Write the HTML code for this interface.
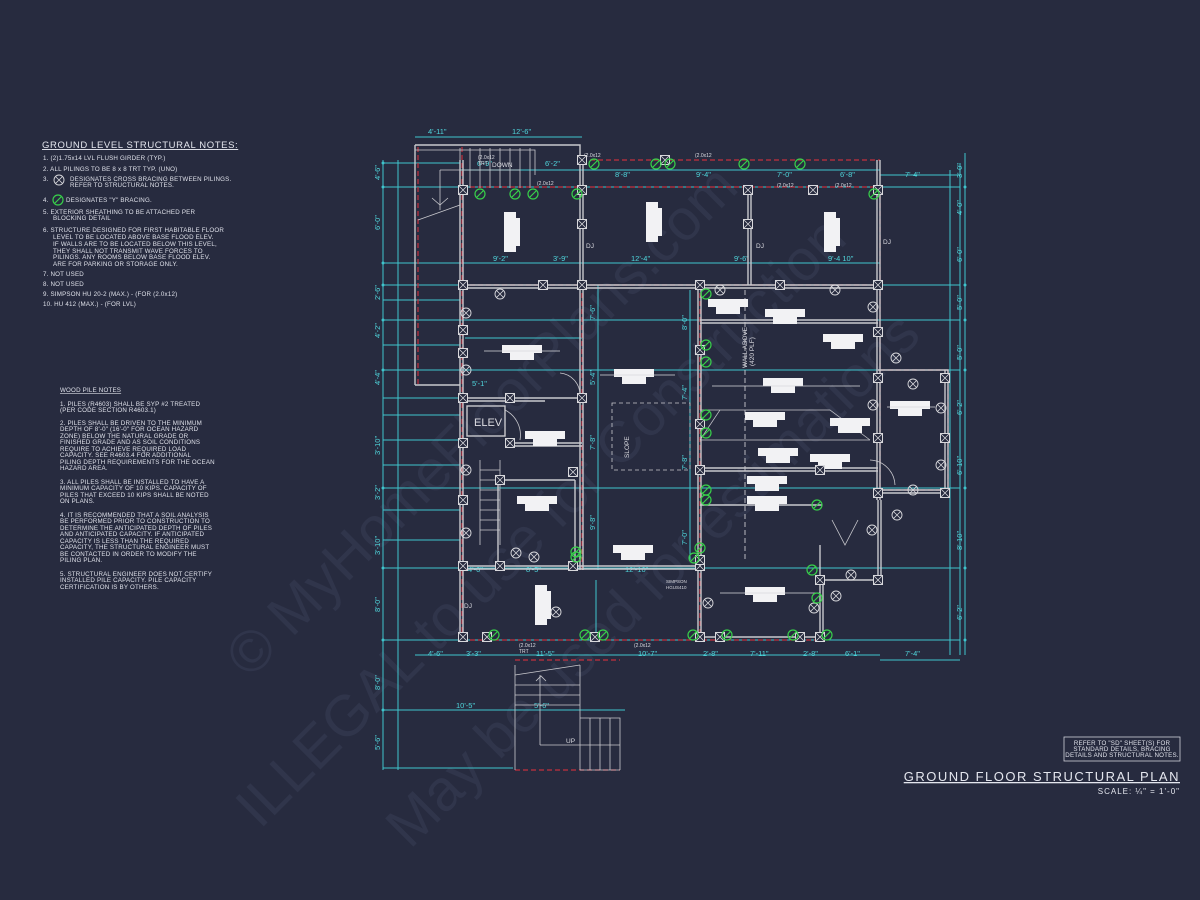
<!DOCTYPE html>
<html><head><meta charset="utf-8"><style>
html,body{margin:0;padding:0;background:#272b3f;}
svg{display:block}
text{font-family:"Liberation Sans",sans-serif;}
.n{fill:#dfe1ea;font-size:6.2px;letter-spacing:.2px}
.c{fill:#4fd6dc;font-size:7.5px}
</style></head><body>
<svg width="1200" height="900" viewBox="0 0 1200 900" xmlns="http://www.w3.org/2000/svg">
<rect width="1200" height="900" fill="#272b3f"/>
<defs>
<g id="xb"><rect x="-4.5" y="-4.5" width="9" height="9" fill="#272b3f" stroke="#d8d8dc" stroke-width="1"/><path d="M-4 -4L4 4M4 -4L-4 4" stroke="#d8d8dc" stroke-width=".8"/></g>
<g id="xc"><circle r="5" fill="none" stroke="#d8d8dc" stroke-width=".9"/><path d="M-3.5 -3.5L3.5 3.5M3.5 -3.5L-3.5 3.5" stroke="#d8d8dc" stroke-width=".8"/></g>
<g id="gy"><circle r="5" fill="none" stroke="#38d04a" stroke-width="1.2"/><path d="M-3 3L3 -3" stroke="#38d04a" stroke-width="1.2"/></g>
<g id="lb"><rect x="-20" y="-4" width="40" height="8" fill="#f2f2f4"/><rect x="-12" y="4" width="24" height="7" fill="#f2f2f4"/></g>
<g id="bm"><rect x="-6" y="-20" width="12" height="40" fill="#f2f2f4"/><rect x="4" y="-14" width="6" height="28" fill="#f2f2f4"/></g>
</defs>

<!-- watermark -->
<g fill="#30354b" font-family="Liberation Serif,serif" font-size="58">
<text transform="translate(250,680) rotate(-45)">© MyHomeFloorPlans.com</text>
<text transform="translate(260,830) rotate(-45)">ILLEGAL to use for Construction</text>
<text transform="translate(410,850) rotate(-45)">May be used for estimations</text>
</g>

<!-- notes -->
<text x="42" y="148" fill="#e4e6ee" font-size="9.5" text-decoration="underline" letter-spacing=".6">GROUND LEVEL STRUCTURAL NOTES:</text>
<g class="n">
<text x="43" y="160">1.  (2)1.75x14 LVL FLUSH GIRDER (TYP.)</text>
<text x="43" y="171">2.  ALL PILINGS TO BE 8 x 8 TRT TYP. (UNO)</text>
<text x="43" y="181">3.</text><text x="70" y="181">DESIGNATES CROSS BRACING BETWEEN PILINGS.</text>
<text x="70" y="187">REFER TO STRUCTURAL NOTES.</text>
<text x="43" y="202">4.</text><text x="66" y="202">DESIGNATES "Y" BRACING.</text>
<text x="43" y="214">5.  EXTERIOR SHEATHING TO BE ATTACHED PER</text>
<text x="53" y="220">BLOCKING DETAIL</text>
<text x="43" y="232">6.  STRUCTURE DESIGNED FOR FIRST HABITABLE FLOOR</text>
<text x="53" y="239">LEVEL TO BE LOCATED ABOVE BASE FLOOD ELEV.</text>
<text x="53" y="246">IF WALLS ARE TO BE LOCATED BELOW THIS LEVEL,</text>
<text x="53" y="253">THEY SHALL NOT TRANSMIT WAVE FORCES TO</text>
<text x="53" y="259">PILINGS.  ANY ROOMS BELOW BASE FLOOD ELEV.</text>
<text x="53" y="266">ARE FOR PARKING OR STORAGE ONLY.</text>
<text x="43" y="276">7.  NOT USED</text>
<text x="43" y="286">8.  NOT USED</text>
<text x="43" y="296">9.  SIMPSON HU 20-2 (MAX.) - (FOR (2.0x12)</text>
<text x="43" y="306">10. HU 412 (MAX.) - (FOR LVL)</text>
</g>
<use href="#xc" x="59" y="180"/>
<use href="#gy" x="58" y="200"/>

<g class="n" font-size="5.6">
<text x="60" y="392" text-decoration="underline">WOOD PILE NOTES</text>
<text x="60" y="406">1. PILES (R4603) SHALL BE SYP #2 TREATED</text>
<text x="60" y="412">(PER CODE SECTION R4603.1)</text>
<text x="60" y="425">2. PILES SHALL BE DRIVEN TO THE MINIMUM</text>
<text x="60" y="431">DEPTH OF 8'-0" (16'-0" FOR OCEAN HAZARD</text>
<text x="60" y="438">ZONE) BELOW THE NATURAL GRADE OR</text>
<text x="60" y="444">FINISHED GRADE AND AS SOIL CONDITIONS</text>
<text x="60" y="451">REQUIRE TO ACHIEVE REQUIRED LOAD</text>
<text x="60" y="457">CAPACITY. SEE R4603.4 FOR ADDITIONAL</text>
<text x="60" y="464">PILING DEPTH REQUIREMENTS FOR THE OCEAN</text>
<text x="60" y="470">HAZARD AREA.</text>
<text x="60" y="484">3. ALL PILES SHALL BE INSTALLED TO HAVE A</text>
<text x="60" y="490">MINIMUM CAPACITY OF 10 KIPS. CAPACITY OF</text>
<text x="60" y="497">PILES THAT EXCEED 10 KIPS SHALL BE NOTED</text>
<text x="60" y="503">ON PLANS.</text>
<text x="60" y="517">4. IT IS RECOMMENDED THAT A SOIL ANALYSIS</text>
<text x="60" y="523">BE PERFORMED PRIOR TO CONSTRUCTION TO</text>
<text x="60" y="530">DETERMINE THE ANTICIPATED DEPTH OF PILES</text>
<text x="60" y="536">AND ANTICIPATED CAPACITY. IF ANTICIPATED</text>
<text x="60" y="543">CAPACITY IS LESS THAN THE REQUIRED</text>
<text x="60" y="549">CAPACITY, THE STRUCTURAL ENGINEER MUST</text>
<text x="60" y="556">BE CONTACTED IN ORDER TO MODIFY THE</text>
<text x="60" y="562">PILING PLAN.</text>
<text x="60" y="576">5. STRUCTURAL ENGINEER DOES NOT CERTIFY</text>
<text x="60" y="582">INSTALLED PILE CAPACITY. PILE CAPACITY</text>
<text x="60" y="589">CERTIFICATION IS BY OTHERS.</text>
</g>

<!-- title -->
<rect x="1064" y="737" width="116" height="24" fill="none" stroke="#cfd1da" stroke-width=".8"/>
<g class="n" font-size="5.3" text-anchor="middle">
<text x="1122" y="745">REFER TO "SD" SHEET(S) FOR</text>
<text x="1122" y="751">STANDARD DETAILS, BRACING</text>
<text x="1122" y="757">DETAILS AND STRUCTURAL NOTES.</text>
</g>
<text x="1180" y="781" text-anchor="end" fill="#e4e6ee" font-size="13" letter-spacing="1.5" text-decoration="underline">GROUND FLOOR STRUCTURAL PLAN</text>
<text x="1180" y="794" text-anchor="end" fill="#e4e6ee" font-size="8" letter-spacing="1">SCALE: ¼" = 1'-0"</text>

<!-- cyan dimension lines -->
<g stroke="#3fc4cc" stroke-width="1" fill="none">
<path d="M415 137H582M383 160V770M398 160V770M965 153V655M950 170V655"/>
<path d="M383 163H460M383 187H960M383 263H880M383 285H960M383 300H460M383 320H960M383 345H460M383 370H960M383 398H460M383 415H460M383 440H460M383 465H460M383 488H960M383 510H460M383 540H460M383 568H960M383 640H960M383 710H625M383 768H513"/>
<path d="M415 655H880M460 170H880M598 285V570M690 290V560M596 580V640M465 338H582"/>
<path d="M960 163V655M880 175H960M880 660H960"/>
</g>
<g fill="#3fc4cc">
<circle cx="383" cy="163" r="1.5"/><circle cx="383" cy="187" r="1.5"/><circle cx="383" cy="263" r="1.5"/><circle cx="383" cy="285" r="1.5"/><circle cx="383" cy="320" r="1.5"/><circle cx="383" cy="370" r="1.5"/><circle cx="383" cy="488" r="1.5"/><circle cx="383" cy="568" r="1.5"/><circle cx="383" cy="640" r="1.5"/><circle cx="383" cy="710" r="1.5"/>
<circle cx="965" cy="187" r="1.5"/><circle cx="965" cy="285" r="1.5"/><circle cx="965" cy="320" r="1.5"/><circle cx="965" cy="370" r="1.5"/><circle cx="965" cy="488" r="1.5"/><circle cx="965" cy="568" r="1.5"/><circle cx="965" cy="640" r="1.5"/>
</g>
<g class="c">
<text x="428" y="134">4'-11"</text><text x="512" y="134">12'-6"</text>
<text x="477" y="166">6'-9"</text><text x="545" y="166">6'-2"</text><text x="615" y="177">8'-8"</text><text x="696" y="177">9'-4"</text><text x="777" y="177">7'-0"</text><text x="840" y="177">6'-8"</text><text x="905" y="177">7'-4"</text>
<text x="493" y="261">9'-2"</text><text x="553" y="261">3'-9"</text><text x="631" y="261">12'-4"</text><text x="734" y="261">9'-6"</text><text x="828" y="261">9'-4 10"</text>
<text x="472" y="386">5'-1"</text>
<text x="468" y="572">4'-0"</text><text x="526" y="572">8'-5"</text><text x="625" y="572">12'-10"</text>
<text x="428" y="656">4'-6"</text><text x="466" y="656">3'-3"</text><text x="536" y="656">11'-5"</text><text x="638" y="656">10'-7"</text><text x="703" y="656">2'-8"</text><text x="750" y="656">7'-11"</text><text x="803" y="656">2'-8"</text><text x="845" y="656">6'-1"</text><text x="905" y="656">7'-4"</text>
<text x="456" y="708">10'-5"</text><text x="534" y="708">5'-6"</text>
</g>
<g class="c" font-size="6.5">
<text transform="translate(380,180) rotate(-90)">4'-6"</text><text transform="translate(380,230) rotate(-90)">6'-0"</text><text transform="translate(380,300) rotate(-90)">2'-6"</text><text transform="translate(380,338) rotate(-90)">4'-2"</text><text transform="translate(380,385) rotate(-90)">4'-4"</text><text transform="translate(380,455) rotate(-90)">3'-10"</text><text transform="translate(380,500) rotate(-90)">3'-2"</text><text transform="translate(380,555) rotate(-90)">3'-10"</text><text transform="translate(380,612) rotate(-90)">8'-0"</text><text transform="translate(380,690) rotate(-90)">8'-0"</text><text transform="translate(380,750) rotate(-90)">5'-6"</text>
<text transform="translate(962,178) rotate(-90)">3'-0"</text><text transform="translate(962,215) rotate(-90)">4'-0"</text><text transform="translate(962,262) rotate(-90)">6'-0"</text><text transform="translate(962,310) rotate(-90)">5'-0"</text><text transform="translate(962,360) rotate(-90)">5'-0"</text><text transform="translate(962,415) rotate(-90)">6'-2"</text><text transform="translate(962,475) rotate(-90)">6'-10"</text><text transform="translate(962,550) rotate(-90)">8'-10"</text><text transform="translate(962,620) rotate(-90)">6'-2"</text>
<text transform="translate(687,330) rotate(-90)">8'-0"</text><text transform="translate(687,400) rotate(-90)">7'-4"</text><text transform="translate(687,470) rotate(-90)">7'-8"</text><text transform="translate(687,545) rotate(-90)">7'-0"</text>
<text transform="translate(595,320) rotate(-90)">7'-6"</text><text transform="translate(595,385) rotate(-90)">5'-4"</text><text transform="translate(595,450) rotate(-90)">7'-8"</text><text transform="translate(595,530) rotate(-90)">9'-8"</text>
</g>

<!-- red dashed framing -->
<g stroke="#c1303e" stroke-width="1.2" fill="none" stroke-dasharray="5 3">
<path d="M418 147V385M462 147V640M582 160H880M462 187H880M462 285H880M582 285V570M700 285V640M462 640H820M880 187V500M880 370H948M880 490H948M948 370V490"/>
<path d="M515 660H620M515 770H620"/>
</g>

<!-- walls -->
<g stroke="#c9c9ce" stroke-width="1.4" fill="none">
<path d="M415 145H580V385M415 145V385M460 160V640M580 160V570M463 160V640"/>
<path d="M583 160V570M748 187V285M751 187V285M880 160V500M877 160V500"/>
<path d="M462 285H880M462 288H880M462 398H582M462 401H545M505 443H582M505 446H582"/>
<path d="M498 480H575M498 565V480M575 480V565M462 566H700M462 569H700"/>
<path d="M698 285V640M701 285V640M700 637H820M820 580V640M823 580V640M820 580H880M820 545V580"/>
<path d="M878 370H948V490H878M878 493H948M945 370V490"/>
<path d="M700 320H878M700 323H878M700 468H878M700 471H878M700 505H822M415 385H460"/>
<path d="M878 500V580M881 500V580"/>
<rect x="467" y="406" width="38" height="30"/>
</g>
<text x="474" y="426" fill="#dcdce2" font-size="11">ELEV</text>

<!-- stairs etc -->
<g stroke="#c9c9ce" stroke-width=".8" fill="none">
<path d="M460 148V188M470 148V188M480 148V188M490 148V188M500 148V188M510 148V188M520 148V188M530 148V188"/>
<path d="M415 150H535V175M440 170H520M440 170V210M418 220L460 205"/>
<path d="M432 198L440 205L448 198"/>
<path d="M480 460V545M500 460V545M480 470H500M480 480H500M480 490H500M480 500H500M480 510H500M480 520H500M480 530H500"/>
<path d="M515 665V770M580 665V770M515 675L580 665M515 685H580M515 695H580M515 705H580M540 675V745M580 718H620V770M580 770H620M590 718V770M600 718V770M610 718V770M540 745H620"/>
<path d="M536 681L541 676L546 681"/>
<path d="M612 403H690V470H612Z" stroke-dasharray="4 3"/>
<path d="M700 410L720 410L700 440M720 410H830L870 440M700 440L870 440" stroke-width=".7"/>
<path d="M745 290V560" stroke-dasharray="5 3" stroke-width=".9"/>
<path d="M560 373A22 22 0 0 1 580 395M505 410A28 28 0 0 1 520 440M870 460A26 26 0 0 1 895 485M832 520L845 545L858 520"/>
</g>
<g fill="#dcdce2" font-size="6.5">
<text x="492" y="167">DOWN</text>
<text x="566" y="743">UP</text>
<text x="756" y="248">DJ</text><text x="883" y="244">DJ</text><text x="586" y="248">DJ</text><text x="464" y="608">DJ</text>
<text transform="translate(629,458) rotate(-90)">SLOPE</text>
<text transform="translate(747,368) rotate(-90)">WALL ABOVE</text><text transform="translate(754,366) rotate(-90)">(420 PLF)</text>
<text x="666" y="583" font-size="4.5">SIMPSON</text><text x="666" y="589" font-size="4.5">HGUS410</text>
<text x="478" y="159" font-size="5">(2.0x12</text><text x="478" y="165" font-size="5">TRT</text>
<text x="537" y="185" font-size="5">(2.0x12</text><text x="584" y="157" font-size="5">(2.0x12</text><text x="695" y="157" font-size="5">(2.0x12</text>
<text x="777" y="187" font-size="5">(2.0x12</text><text x="835" y="187" font-size="5">(2.0x12</text>
<text x="519" y="647" font-size="5">(2.0x12</text><text x="519" y="653" font-size="5">TRT</text><text x="634" y="647" font-size="5">(2.0x12</text>
</g>

<use href="#bm" x="510" y="232"/><use href="#bm" x="652" y="222"/><use href="#bm" x="830" y="232"/><use href="#bm" x="541" y="605"/>
<use href="#lb" x="522" y="349"/><use href="#lb" x="634" y="373"/><use href="#lb" x="545" y="435"/><use href="#lb" x="537" y="500"/>
<use href="#lb" x="633" y="549"/><use href="#lb" x="765" y="591"/><use href="#lb" x="728" y="303"/><use href="#lb" x="785" y="313"/>
<use href="#lb" x="843" y="338"/><use href="#lb" x="783" y="382"/><use href="#lb" x="765" y="416"/><use href="#lb" x="850" y="422"/>
<use href="#lb" x="778" y="452"/><use href="#lb" x="830" y="458"/><use href="#lb" x="767" y="480"/><use href="#lb" x="910" y="405"/>
<use href="#lb" x="767" y="500"/>
<g stroke="#d8d8dc" stroke-width=".7"><path d="M484 351H560M600 375H675M712 386H860M887 407H935M720 593H820"/></g>

<g>
<use href="#xb" x="463" y="190"/><use href="#xb" x="582" y="190"/><use href="#xb" x="582" y="160"/><use href="#xb" x="665" y="160"/>
<use href="#xb" x="748" y="190"/><use href="#xb" x="813" y="190"/><use href="#xb" x="878" y="190"/><use href="#xb" x="582" y="224"/>
<use href="#xb" x="748" y="224"/><use href="#xb" x="463" y="285"/><use href="#xb" x="543" y="285"/><use href="#xb" x="582" y="285"/>
<use href="#xb" x="700" y="285"/><use href="#xb" x="780" y="285"/><use href="#xb" x="878" y="285"/><use href="#xb" x="878" y="332"/>
<use href="#xb" x="878" y="378"/><use href="#xb" x="945" y="378"/><use href="#xb" x="878" y="438"/><use href="#xb" x="945" y="438"/>
<use href="#xb" x="878" y="493"/><use href="#xb" x="945" y="493"/><use href="#xb" x="700" y="350"/><use href="#xb" x="700" y="424"/>
<use href="#xb" x="463" y="398"/><use href="#xb" x="510" y="398"/><use href="#xb" x="582" y="398"/><use href="#xb" x="463" y="443"/>
<use href="#xb" x="510" y="443"/><use href="#xb" x="463" y="500"/><use href="#xb" x="500" y="480"/><use href="#xb" x="573" y="472"/>
<use href="#xb" x="463" y="566"/><use href="#xb" x="500" y="566"/><use href="#xb" x="573" y="566"/><use href="#xb" x="700" y="566"/>
<use href="#xb" x="463" y="637"/><use href="#xb" x="487" y="637"/><use href="#xb" x="595" y="637"/><use href="#xb" x="700" y="637"/>
<use href="#xb" x="720" y="637"/><use href="#xb" x="800" y="637"/><use href="#xb" x="820" y="637"/><use href="#xb" x="820" y="580"/>
<use href="#xb" x="878" y="580"/><use href="#xb" x="700" y="560"/><use href="#xb" x="463" y="353"/><use href="#xb" x="463" y="330"/>
<use href="#xb" x="820" y="470"/><use href="#xb" x="700" y="470"/>
</g>
<g>
<use href="#xc" x="466" y="313"/><use href="#xc" x="466" y="370"/><use href="#xc" x="466" y="470"/><use href="#xc" x="466" y="533"/>
<use href="#xc" x="500" y="294"/><use href="#xc" x="534" y="557"/><use href="#xc" x="516" y="553"/><use href="#xc" x="556" y="612"/>
<use href="#xc" x="720" y="290"/><use href="#xc" x="835" y="290"/><use href="#xc" x="873" y="307"/><use href="#xc" x="873" y="405"/>
<use href="#xc" x="913" y="384"/><use href="#xc" x="941" y="408"/><use href="#xc" x="941" y="465"/><use href="#xc" x="913" y="490"/>
<use href="#xc" x="708" y="603"/><use href="#xc" x="814" y="608"/><use href="#xc" x="872" y="530"/><use href="#xc" x="851" y="575"/>
<use href="#xc" x="896" y="358"/><use href="#xc" x="897" y="515"/><use href="#xc" x="836" y="596"/>
</g>
<g>
<use href="#gy" x="480" y="194"/><use href="#gy" x="515" y="194"/><use href="#gy" x="533" y="194"/><use href="#gy" x="577" y="194"/>
<use href="#gy" x="594" y="164"/><use href="#gy" x="656" y="164"/><use href="#gy" x="670" y="164"/><use href="#gy" x="744" y="164"/>
<use href="#gy" x="800" y="164"/><use href="#gy" x="874" y="194"/><use href="#gy" x="706" y="294"/><use href="#gy" x="706" y="345"/>
<use href="#gy" x="706" y="362"/><use href="#gy" x="706" y="415"/><use href="#gy" x="706" y="433"/><use href="#gy" x="706" y="490"/>
<use href="#gy" x="706" y="500"/><use href="#gy" x="817" y="505"/><use href="#gy" x="576" y="552"/><use href="#gy" x="576" y="557"/>
<use href="#gy" x="694" y="558"/><use href="#gy" x="700" y="548"/><use href="#gy" x="494" y="635"/><use href="#gy" x="585" y="635"/>
<use href="#gy" x="603" y="635"/><use href="#gy" x="693" y="635"/><use href="#gy" x="727" y="635"/><use href="#gy" x="793" y="635"/>
<use href="#gy" x="827" y="635"/><use href="#gy" x="812" y="570"/><use href="#gy" x="817" y="598"/>
</g>
</svg>
</body></html>
